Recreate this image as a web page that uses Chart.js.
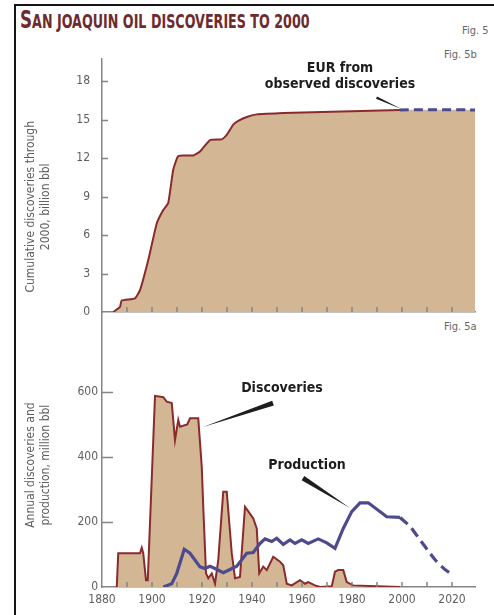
<!DOCTYPE html>
<html>
<head>
<meta charset="utf-8">
<script src="https://cdn.jsdelivr.net/npm/chart.js@4.4.1/dist/chart.umd.min.js"></script>
<style>
  body { margin: 0; background: #fff; }
  #wrap { position: relative; width: 494px; height: 615px; overflow: hidden; background: #fff;
    font-family: "DejaVu Sans Condensed", "Liberation Sans Narrow", sans-serif; }
  #frame { position: absolute; left: 14px; top: 4px; width: 700px; height: 800px;
    border-top: 2px solid #151515; border-left: 2px solid #151515; }
  #title { position: absolute; left: 20px; top: 5px; color: #6e2b2e; font-weight: bold; font-size: 19px;
    white-space: nowrap; transform-origin: 0 0; }
  #title .big { font-size: 25px; }
  .fig { position: absolute; color: #666; font-size: 11px; white-space: nowrap; }
  canvas { position: absolute; left: 0; }
</style>
</head>
<body>
<div id="wrap">
  <div id="frame"></div>
  <div id="title"><span class="big">S</span>AN JOAQUIN OIL DISCOVERIES TO 2000</div>
  <div class="fig" style="left:462px;top:24px">Fig. 5</div>
  <div class="fig" style="left:444px;top:48px">Fig. 5b</div>
  <div class="fig" style="left:444px;top:320px">Fig. 5a</div>
  <canvas id="topChart" width="494" height="300" style="top:40px;width:494px;height:300px"></canvas>
  <canvas id="botChart" width="494" height="315" style="top:300px;width:494px;height:315px"></canvas>
</div>
<script>
// Fig. 5b - cumulative discoveries, billion bbl
const cumYears = [1884.5, 1887.2, 1887.9, 1893.2, 1895.2, 1898.5, 1901.9, 1904.5, 1906.5, 1908.5, 1910.3, 1912, 1916.5, 1919.2, 1923.2, 1927.9, 1929.9, 1932.5, 1934.5, 1937.9, 1941.9, 1945.9, 1952.5, 1999.2]
const cumValues = [0, 0.4, 0.9, 1.07, 1.7, 4.05, 6.9, 7.95, 8.5, 11.1, 12.1, 12.2, 12.2, 12.5, 13.4, 13.45, 13.8, 14.6, 14.9, 15.2, 15.4, 15.45, 15.5, 15.75]
const eurYears = [2029.2]
const eurValues = [15.75]

// Fig. 5a - annual discoveries and production, million bbl
const discYears = [1885.9, 1886.5, 1895.2, 1895.9, 1896.5, 1897.6, 1898.3, 1901.2, 1904.5, 1905.9, 1907.9, 1909.2, 1910.5, 1911.2, 1914.1, 1915.2, 1918.5, 1919.9, 1920.5, 1921.6, 1922.5, 1923.9, 1925.2, 1926.5, 1928.5, 1929.9, 1931.9, 1933.2, 1935.2, 1937.2, 1938.6, 1940.5, 1941.9, 1942.9, 1944.5, 1945.9, 1948.5, 1951.2, 1952.5, 1953.9, 1955.9, 1959.2, 1961.2, 1962.5, 1965.2, 1967.2, 1971.9, 1973.2, 1974.5, 1976.5, 1977.9, 1980.5, 1999.2]
const discValues = [0, 104, 104, 121, 104, 21, 21, 588, 584, 570, 566, 452, 514, 493, 500, 519, 519, 370, 247, 42, 27, 42, 10, 83, 293, 293, 104, 27, 31, 247, 232, 211, 180, 42, 63, 52, 93, 78, 67, 10, 5, 21, 10, 15, 5, 0, 2, 47, 52, 52, 15, 5, 0]

const prodYears = [1904.5, 1907.9, 1909.9, 1912.9, 1915.2, 1919.2, 1921.2, 1923.2, 1925.2, 1928.5, 1931.2, 1933.9, 1937.9, 1940.5, 1943.2, 1945.2, 1947.9, 1949.9, 1952.5, 1955.2, 1957.2, 1959.9, 1962.5, 1966.5, 1969.9, 1973.2, 1976.5, 1979.9, 1983.2, 1986.5, 1993.9, 1999.2]
const prodValues = [0, 10, 42, 116, 104, 62, 57, 64, 57, 44, 54, 64, 104, 106, 134, 148, 140, 150, 131, 145, 134, 145, 134, 148, 136, 119, 180, 232, 259, 259, 216, 214]
const forecastYears = [1999.2, 2003.2, 2007.2, 2011.2, 2013.9, 2017.2, 2020.5]
const forecastValues = [214, 186, 145, 104, 78, 54, 37]

const FONT = '"DejaVu Sans Condensed", "Liberation Sans Narrow", sans-serif'
const TAN = '#d3b795'
const MAROON = '#8a2a2c'
const NAVY = '#4d4b8e'
const AXIS = '#858585'
const TXT = '#5e5e5e'

const pts = (xs, ys) => xs.map((v, i) => ({x: v, y: ys[i]}))

// fit the title to its width in the picture
const title = document.getElementById('title')
title.style.transform = 'scaleX(' + (290 / title.offsetWidth) + ')'

// ticks drawn on the inside of the axes, as in the printed figure
const insideTicks = {
  id: 'insideTicks',
  afterDraw(chart, args, opts) {
    const {ctx, chartArea: a, scales: {x, y}} = chart
    ctx.save()
    ctx.strokeStyle = AXIS
    ctx.lineWidth = 1.5
    ctx.beginPath()
    y.ticks.forEach(t => {
      if (t.value <= 0) return
      const py = Math.round(y.getPixelForValue(t.value)) + 0.5
      ctx.moveTo(a.left, py)
      ctx.lineTo(a.left + opts.yLen, py)
    })
    x.ticks.forEach(t => {
      if (t.value <= x.min) return
      const px = x.getPixelForValue(t.value)
      ctx.moveTo(px, a.bottom)
      ctx.lineTo(px, a.bottom - 5)
    })
    ctx.stroke()
    ctx.restore()
  }
}

// rotated axis titles and leader notes, placed in data units
const notes = {
  id: 'notes',
  afterDraw(chart, args, opts) {
    const {ctx, chartArea: a, scales: {x, y}} = chart
    ctx.save()
    const st = opts.side
    ctx.translate(a.left - 71, y.getPixelForValue(st.at))
    ctx.rotate(-Math.PI / 2)
    ctx.fillStyle = TXT
    ctx.font = '12px ' + FONT
    ctx.textAlign = 'center'
    ctx.textBaseline = 'middle'
    st.lines.forEach((l, i) => ctx.fillText(l, 0, i * 15))
    ctx.restore()

    ctx.save()
    ctx.fillStyle = '#1d1d1d'
    ctx.font = 'bold 14px ' + FONT
    ctx.textAlign = 'center'
    ctx.textBaseline = 'middle'
    opts.items.forEach(n => {
      n.lines.forEach((l, i) => ctx.fillText(l, x.getPixelForValue(n.x), y.getPixelForValue(n.y) + i * 16))
      const x0 = x.getPixelForValue(n.from[0]), y0 = y.getPixelForValue(n.from[1])
      const x1 = x.getPixelForValue(n.to[0]), y1 = y.getPixelForValue(n.to[1])
      const len = Math.hypot(x1 - x0, y1 - y0)
      const nx = -(y1 - y0) / len * n.w / 2, ny = (x1 - x0) / len * n.w / 2
      ctx.beginPath()
      ctx.moveTo(x0 + nx, y0 + ny)
      ctx.lineTo(x1, y1)
      ctx.lineTo(x0 - nx, y0 - ny)
      ctx.closePath()
      ctx.fill()
    })
    ctx.restore()
  }
}

const xScale = (labels) => ({
  type: 'linear', min: 1880, max: 2029.2,
  grid: {drawOnChartArea: false, drawTicks: false},
  border: {color: AXIS, width: 1.5},
  ticks: {display: labels, stepSize: 10, includeBounds: false, autoSkip: false, maxRotation: 0, padding: 6,
    color: TXT, font: {family: FONT, size: 12}, callback: v => v % 20 === 0 ? String(v) : ''},
  afterFit: s => { s.height = 28 }
})

new Chart(document.getElementById('topChart'), {
  type: 'line',
  data: {
    datasets: [{
      data: pts(cumYears.concat(eurYears), cumValues.concat(eurValues)),
      fill: 'origin',
      backgroundColor: TAN,
      borderColor: MAROON,
      borderWidth: 2,
      pointRadius: 0,
      tension: 0.15,
      segment: {
        borderColor: c => c.p0.parsed.x >= 1999 ? NAVY : MAROON,
        borderWidth: c => c.p0.parsed.x >= 1999 ? 3 : 2,
        borderDash: c => c.p0.parsed.x >= 1999 ? [9, 5] : []
      }
    }]
  },
  options: {
    responsive: false, animation: false,
    layout: {padding: {top: 18, right: 19, left: 0, bottom: 0}},
    plugins: {
      legend: {display: false}, tooltip: {enabled: false},
      insideTicks: {yLen: 6},
      notes: {
        side: {at: 8.2, lines: ['Cumulative discoveries through', '2000, billion bbl']},
        items: [{x: 1975.2, y: 19.0, lines: ['EUR from', 'observed discoveries'], from: [1989.8, 16.7], to: [2000, 15.8], w: 2.5}]
      }
    },
    scales: {
      x: xScale(false),
      y: {
        min: 0, max: 19.7,
        grid: {drawOnChartArea: false, drawTicks: false},
        border: {color: AXIS, width: 1.5},
        ticks: {stepSize: 3, includeBounds: false, padding: 12, color: TXT, font: {family: FONT, size: 12}},
        afterFit: s => { s.width = 102 }
      }
    }
  },
  plugins: [insideTicks, notes]
})

new Chart(document.getElementById('botChart'), {
  type: 'line',
  data: {
    datasets: [{
      data: pts(discYears, discValues),
      order: 2,
      fill: 'origin',
      backgroundColor: TAN,
      borderColor: MAROON,
      borderWidth: 2,
      pointRadius: 0,
      tension: 0
    }, {
      data: pts(prodYears, prodValues),
      order: 1,
      fill: false,
      borderColor: NAVY,
      borderWidth: 3.2,
      pointRadius: 0,
      tension: 0
    }, {
      data: pts(forecastYears, forecastValues),
      order: 1,
      fill: false,
      borderColor: NAVY,
      borderWidth: 3.2,
      borderDash: [10, 6],
      pointRadius: 0,
      tension: 0.3
    }]
  },
  options: {
    responsive: false, animation: false,
    layout: {padding: {top: 13, right: 19, left: 0, bottom: 0}},
    plugins: {
      legend: {display: false}, tooltip: {enabled: false},
      insideTicks: {yLen: 11},
      notes: {
        side: {at: 375, lines: ['Annual discoveries and', 'production, million bbl']},
        items: [
          {x: 1952, y: 612, lines: ['Discoveries'], from: [1948.4, 566], to: [1920.4, 492], w: 5},
          {x: 1962, y: 375, lines: ['Production'], from: [1960.4, 335], to: [1979.2, 243], w: 5}
        ]
      }
    },
    scales: {
      x: xScale(true),
      y: {
        min: 0, max: 843,
        grid: {drawOnChartArea: false, drawTicks: false},
        border: {color: AXIS, width: 1.5},
        ticks: {stepSize: 200, includeBounds: false, padding: 4, color: TXT, font: {family: FONT, size: 12}},
        afterBuildTicks: s => { s.ticks = s.ticks.filter(t => t.value <= 600) },
        afterFit: s => { s.width = 102 }
      }
    }
  },
  plugins: [insideTicks, notes]
})
</script>
</body>
</html>
